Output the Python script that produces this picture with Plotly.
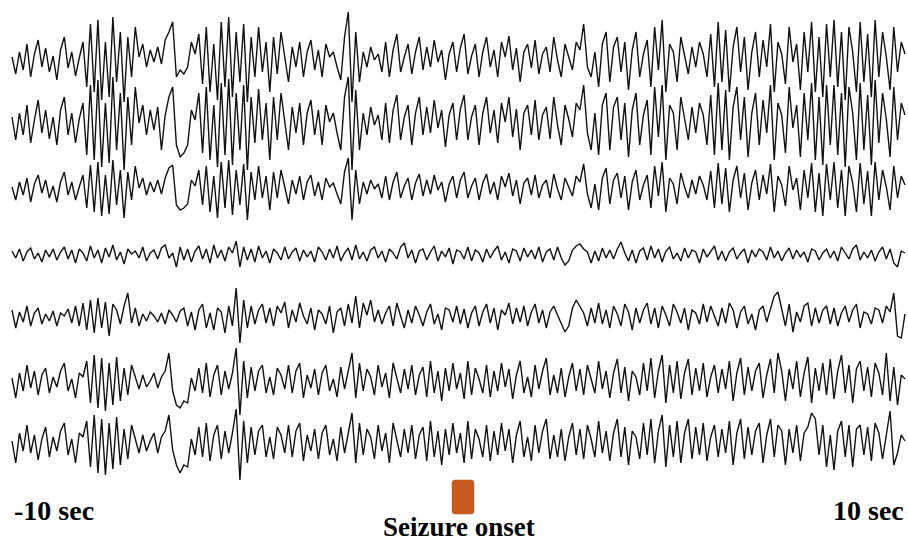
import numpy as np
import plotly.graph_objects as go

# ---- data (amplitudes, arbitrary units) ----
ch1 = [5, -12, 10, -8, 18, -15, 8, 22, -5, 14,
       -10, 6, -18, 12, 25, -6, 10, -14, 4, 20,
       -25, 38, -30, 42, -38, 20, -35, 45, -20, 30,
       -40, 25, -15, 35, 5, 18, -5, 12, 0, 15,
       -2, 22, 30, 40, -15, -8, -12, -5, 20, 8,
       28, -22, 35, -30, 18, -38, 40, -25, 45, -35,
       30, -20, 38, -40, 25, -15, 35, -10, 20, -30,
       25, -12, 30, 5, -20, 15, -5, 20, -15, 10,
       22, -8, 12, -15, 18, 5, 10, -5, -18, 25,
       50, -40, 30, -20, 10, -5, 15, 2, 8, -10,
       20, -15, 12, 28, -10, 5, 18, -12, 10, 25,
       -8, 15, -5, 22, 0, 12, -18, 8, 20, -10,
       14, 28, -12, 6, 18, -15, 10, 25, -5, 12,
       -15, 20, 5, 26, -8, 14, -20, 10, 18, -6,
       22, -12, 8, 15, -10, 25, 2, -15, 18, 5,
       -8, 20, 12, 38, -5, -15, 10, -25, 18, 30,
       -20, 15, 25, -10, 20, -28, 12, 30, -15, 8,
       22, -25, 35, -8, 42, -30, 18, 10, -20, 25,
       5, -12, 15, -5, 20, 8, -15, 28, -25, 40,
       -20, 32, -30, 15, 35, -10, 25, -28, 10, 30,
       -15, 22, -5, 38, -30, 20, 8, -22, 35, 0,
       18, -28, 30, -10, 40, -30, 25, -35, 38, -15,
       42, -25, 30, -38, 35, 10, -30, 40, -20, 28,
       -35, 42, -15, 30, 5, -28, 35, -10, 20, 8]

ch2 = [8, -15, 12, -10, 20, -18, 5, 25, -8, 15,
       -14, 8, -20, 15, 28, -10, 12, -18, 6, 22,
       -30, 40, -35, 45, -42, 22, -38, 48, -25, 32,
       -45, 28, -20, 38, 2, 20, -10, 15, -5, 18,
       -25, 10, 28, 38, -20, -32, -28, -20, 15, 5,
       32, -28, 38, -35, 20, -42, 42, -30, 46, -40,
       32, -25, 40, -45, 28, -18, 36, -15, 22, -35,
       28, -15, 32, 2, -25, 18, -8, 22, -20, 12,
       25, -10, 15, -20, 20, 3, 12, -8, -25, 28,
       48, -45, 35, -25, 12, -10, 18, 0, 10, -15,
       22, -18, 15, 30, -15, 8, 20, -20, 12, 28,
       -10, 18, -8, 25, -3, 15, -22, 10, 22, -15,
       16, 30, -15, 8, 20, -20, 12, 28, -8, 15,
       -18, 22, 3, 28, -12, 16, -25, 12, 20, -10,
       25, -15, 10, 18, -14, 28, 0, -20, 20, 6,
       -12, 22, 15, 40, -8, -25, 12, -30, 20, 32,
       -25, 18, 28, -15, 22, -32, 15, 32, -20, 10,
       25, -30, 38, -12, 40, -35, 20, 12, -25, 28,
       6, -15, 18, -8, 22, 10, -20, 30, -30, 42,
       -25, 35, -35, 18, 38, -15, 28, -32, 12, 32,
       -20, 25, -8, 40, -35, 22, 10, -28, 38, -3,
       20, -32, 32, -15, 42, -35, 28, -40, 40, -20,
       40, -30, 32, -42, 38, 12, -35, 42, -25, 30,
       -40, 45, -18, 32, 6, -32, 38, -15, 22, 10]

ch3 = [3, -10, 8, -5, 12, -12, 6, 15, -3, 10,
       -8, 4, -12, 8, 18, -5, 8, -10, 3, 15,
       -18, 25, -22, 28, -26, 15, -24, 30, -15, 20,
       -28, 18, -10, 24, 2, 12, -5, 8, -2, 10,
       -4, 12, 22, 25, -15, -20, -18, -14, 10, 4,
       20, -15, 24, -22, 14, -28, 28, -18, 30, -25,
       20, -15, 26, -30, 18, -10, 24, -8, 14, -20,
       18, -8, 20, 3, -14, 10, -4, 14, -10, 8,
       15, -6, 8, -10, 12, 3, 7, -4, -14, 18,
       32, -30, 20, -14, 8, -4, 10, 1, 6, -8,
       14, -10, 8, 18, -8, 4, 12, -10, 7, 16,
       -6, 10, -4, 15, 0, 8, -12, 6, 14, -8,
       10, 18, -8, 4, 12, -10, 7, 16, -4, 8,
       -10, 14, 3, 17, -6, 10, -14, 7, 12, -5,
       15, -8, 5, 10, -8, 16, 1, -10, 12, 3,
       -6, 14, 8, 26, -4, -18, 6, -20, 12, 22,
       -14, 10, 17, -8, 14, -20, 8, 20, -10, 5,
       15, -18, 24, -6, 28, -22, 12, 6, -14, 17,
       3, -8, 10, -4, 14, 5, -10, 19, -18, 27,
       -14, 22, -22, 10, 24, -8, 17, -20, 7, 20,
       -10, 15, -4, 26, -22, 14, 5, -16, 24, 0,
       12, -20, 20, -8, 27, -22, 17, -26, 26, -10,
       28, -18, 20, -26, 24, 7, -22, 27, -14, 19,
       -26, 28, -10, 20, 3, -20, 24, -8, 14, 5]

ch4 = [4, -3, 6, -6, 3, 7, -4, 2, -7, 5,
       -2, 6, -5, 3, 8, -4, 5, -8, 6, 2,
       -6, 9, -3, 5, -8, 7, -2, 10, -5, 3,
       -9, 6, 1, 4, -3, 8, -6, 2, 5, -4,
       7, 10, -3, 2, -12, 8, -5, 6, -7, 4,
       9, -4, 6, -8, 10, -3, 5, -6, 8, 2,
       14, -12, 8, -5, 6, -7, 9, -3, 4, -8,
       6, 2, -5, 8, -4, 3, 7, -6, 5, -2,
       4, -7, 8, 3, -5, 6, -3, 9, -6, 2,
       7, -5, 10, -4, 3, -6, 5, 8, -3, 4,
       -7, 6, 2, -4, 8, 12, -3, 5, -8, 4,
       6, -5, 3, 9, -6, 4, -2, 7, -9, 5,
       3, -4, 8, -6, 5, 2, -7, 6, -3, 4,
       9, -5, 3, -8, 6, 4, -6, 7, -2, 5,
       -4, 8, -7, 3, 6, -5, 8, -3, -10, -6,
       5, 9, 11, 6, 3, -8, 4, -6, 7, -3,
       5, -4, 6, 13, 2, -6, 5, -8, 4, 7,
       -5, 9, -3, 6, -7, 4, 8, -4, 2, -6,
       7, -3, 5, 3, -8, 6, -2, 4, 9, -5,
       4, -6, 3, 7, -4, 2, 6, -8, 5, -2,
       6, 3, -5, 8, -3, 4, -6, 2, 7, -4,
       5, -2, 3, -7, 6, 4, -5, 2, 6, -3,
       4, -6, 8, 2, -4, 6, 10, -5, 3, -3,
       5, -6, 3, 8, -4, 6, -8, -12, 4, 2]

ch5 = [8, -10, 6, -4, 12, -8, 5, 10, -6, 4,
       -3, 7, -8, 5, 2, 9, -5, 12, -8, 15,
       -12, 18, -15, 20, -10, 16, -18, 14, 8, -6,
       12, 25, -5, 10, -8, 4, -3, 6, 2, -4,
       5, -6, 8, 3, -4, 7, 10, -8, 6, -12,
       8, 14, -10, 5, -12, 10, 6, -15, 12, -8,
       30, -25, 18, -10, 12, -6, 8, 14, -5, 10,
       -8, 12, 5, 16, -10, 8, -4, 15, 2, -6,
       10, -12, 8, 4, -6, 12, -15, 6, 10, -8,
       14, -5, 22, -10, 15, 3, 18, -4, 8, -6,
       5, 12, -8, 15, 2, -10, 8, -5, 12, 3,
       -8, 6, 14, -6, 4, -12, 10, 8, -4, 12,
       -6, 9, -10, 5, 12, -8, 6, 14, -5, 10,
       -12, 8, 3, 15, -6, 10, -4, 12, -8, 6,
       14, -5, 8, -10, 6, 12, 3, -6, -14, -8,
       10, 18, 12, 5, -8, 10, -5, 15, -6, 8,
       -10, 12, 4, -8, 14, 6, -12, 10, -5, 8,
       15, -6, 10, -10, 12, 3, -8, 14, 6, -5,
       10, -12, 8, 5, -6, 14, -4, 12, 2, -8,
       10, -5, 15, 8, -10, 6, 12, -6, 4, -12,
       8, 12, -4, 10, 22, 26, 10, -8, 14, -14,
       6, -4, 12, 15, -8, 10, -5, 8, 12, -6,
       10, -8, 5, 12, -4, 8, 14, -10, 6, 4,
       -6, 10, 8, -5, 12, 6, 25, -18, -20, 4]

ch6 = [5, -15, 10, -8, 18, -5, 12, -12, 8, 15,
       -10, 6, -4, 12, 20, -8, 4, -15, 10, 6,
       22, -20, 28, -25, 25, -28, 20, -22, 26, -18,
       15, -12, 18, 5, -6, 8, -4, 2, 10, -5,
       6, 12, 30, -8, -22, -25, -18, -20, 5, -8,
       15, -10, 20, -14, 8, 18, -12, 12, -6, 10,
       35, -32, 22, -15, 16, -8, 12, 18, -10, 6,
       -12, 15, 8, -6, 18, -10, 12, 20, -15, 8,
       -5, 14, -12, 10, 18, -8, 4, -14, 16, -6,
       12, 30, -15, 20, -8, 14, 6, -12, 18, -4,
       10, -15, 20, 4, -10, 14, -6, 18, -12, 8,
       16, -14, 22, -10, 12, -18, 15, -8, 20, -6,
       10, -16, 22, -12, 15, 4, -10, 18, -14, 12,
       -8, 20, -4, 14, -16, 8, 22, -10, 6, -14,
       18, -6, 12, 25, -12, 8, -10, 15, -14, 6,
       20, -8, 14, -12, 18, 4, -10, 22, -6, 12,
       -15, 10, 24, -10, 16, -18, 12, 6, -12, 20,
       -8, 25, -15, 12, 28, -20, 18, -10, 22, -16,
       10, 24, -12, 15, -8, 20, -14, 6, 18, -10,
       14, -6, 22, -18, 10, 25, -12, 16, -8, 12,
       20, -15, 8, 24, -10, 30, 12, -18, 14, -6,
       22, -14, 10, 26, -20, 15, -8, 20, -12, 24,
       -16, 12, 28, -10, 18, -20, 14, 22, -8, 16,
       -14, 20, 10, -12, 30, -18, 16, -22, 8, 4]

ch7 = [4, -18, 12, -6, 20, -8, 10, -15, 6, 18,
       -12, 8, -6, 14, 22, -10, 6, -18, 12, 8,
       24, -22, 30, -28, 26, -30, 22, -24, 28, -20,
       16, -14, 20, 6, -8, 10, -6, 4, 12, -8,
       8, 14, 30, -5, -20, -28, -20, -22, 6, -10,
       18, -12, 22, -16, 10, 20, -14, 14, -8, 12,
       36, -35, 24, -18, 18, -10, 14, 20, -12, 8,
       -14, 18, 10, -8, 20, -12, 14, 22, -16, 10,
       -6, 16, -14, 12, 20, -10, 6, -16, 18, -8,
       14, 32, -18, 22, -10, 16, 8, -14, 20, -6,
       12, -18, 22, 6, -12, 16, -8, 20, -14, 10,
       18, -16, 24, -12, 14, -20, 16, -10, 22, -8,
       12, -18, 24, -14, 16, 6, -12, 20, -16, 14,
       -10, 22, -6, 16, -18, 10, 24, -12, 8, -16,
       20, -8, 14, 26, -14, 10, -12, 16, -16, 8,
       22, -10, 16, -14, 20, 6, -12, 24, -8, 14,
       -16, 12, 26, -12, 18, -20, 14, 8, -14, 22,
       -10, 26, -18, 14, 30, -22, 20, -12, 24, -18,
       12, 26, -14, 18, -10, 22, -16, 8, 20, -12,
       16, -8, 24, -20, 12, 26, -14, 18, -10, 14,
       22, -18, 10, 26, -12, 20, 14, -20, 16, -8,
       20, -16, 12, 18, 32, 26, -10, 20, -22, 10,
       -25, 14, 24, -12, 20, -22, 16, 20, -10, 18,
       -16, 22, 12, -14, 8, 34, -20, -8, 10, 4]

channels = [ch1, ch2, ch3, ch4, ch5, ch6, ch7]
t_start, t_end = -10, 10          # seconds
onset_time = 0
labels = ["-10 sec", "10 sec", "Seizure onset"]

# ---- layout helpers ----
W, H = 908, 545
x_px0, x_px1 = 12, 905
def px_to_t(p):
    return t_start + (p - x_px0) / (x_px1 - x_px0) * (t_end - t_start)

centers_px = [62, 125, 190, 255, 318, 383, 445]

n = len(ch1)
t = np.linspace(t_start, t_end, n)

fig = go.Figure()
for ch, c in zip(channels, centers_px):
    fig.add_trace(go.Scatter(
        x=t, y=np.array(ch) + (H - c), mode="lines",
        line=dict(color="#111111", width=1.4), hoverinfo="skip", showlegend=False))

# rounded orange marker at seizure onset
bx0, bx1 = px_to_t(452), px_to_t(474)
by0, by1 = H - 514, H - 480
rx = 3 * (t_end - t_start) / (x_px1 - x_px0)
ry = 3
path = (f"M {bx0+rx},{by0} L {bx1-rx},{by0} Q {bx1},{by0} {bx1},{by0+ry} "
        f"L {bx1},{by1-ry} Q {bx1},{by1} {bx1-rx},{by1} L {bx0+rx},{by1} "
        f"Q {bx0},{by1} {bx0},{by1-ry} L {bx0},{by0+ry} Q {bx0},{by0} {bx0+rx},{by0} Z")
fig.add_shape(type="path", path=path, xref="x", yref="y",
              fillcolor="#C65A1E", line=dict(color="#C65A1E", width=0.5))

font = dict(family="Liberation Serif", size=28, color="black")
fig.add_annotation(x=px_to_t(12), y=H - 510, text="<b>%s</b>" % labels[0],
                   xanchor="left", yanchor="middle", showarrow=False, font=font)
fig.add_annotation(x=px_to_t(906), y=H - 510, text="<b>%s</b>" % labels[1],
                   xanchor="right", yanchor="middle", showarrow=False, font=font)
fig.add_annotation(x=px_to_t(459), y=H - 527, text="<b>%s</b>" % labels[2],
                   xanchor="center", yanchor="middle", showarrow=False,
                   font=dict(family="Liberation Serif", size=27, color="black"))

fig.update_layout(
    width=W, height=H, margin=dict(l=0, r=0, t=0, b=0),
    paper_bgcolor="white", plot_bgcolor="white",
    xaxis=dict(range=[px_to_t(0), px_to_t(W)], visible=False, fixedrange=True),
    yaxis=dict(range=[0, H], visible=False, fixedrange=True),
)
fig.write_html("out.html", config={"displayModeBar": False},
               post_script="document.body.style.margin='0';document.body.style.overflow='hidden';")
